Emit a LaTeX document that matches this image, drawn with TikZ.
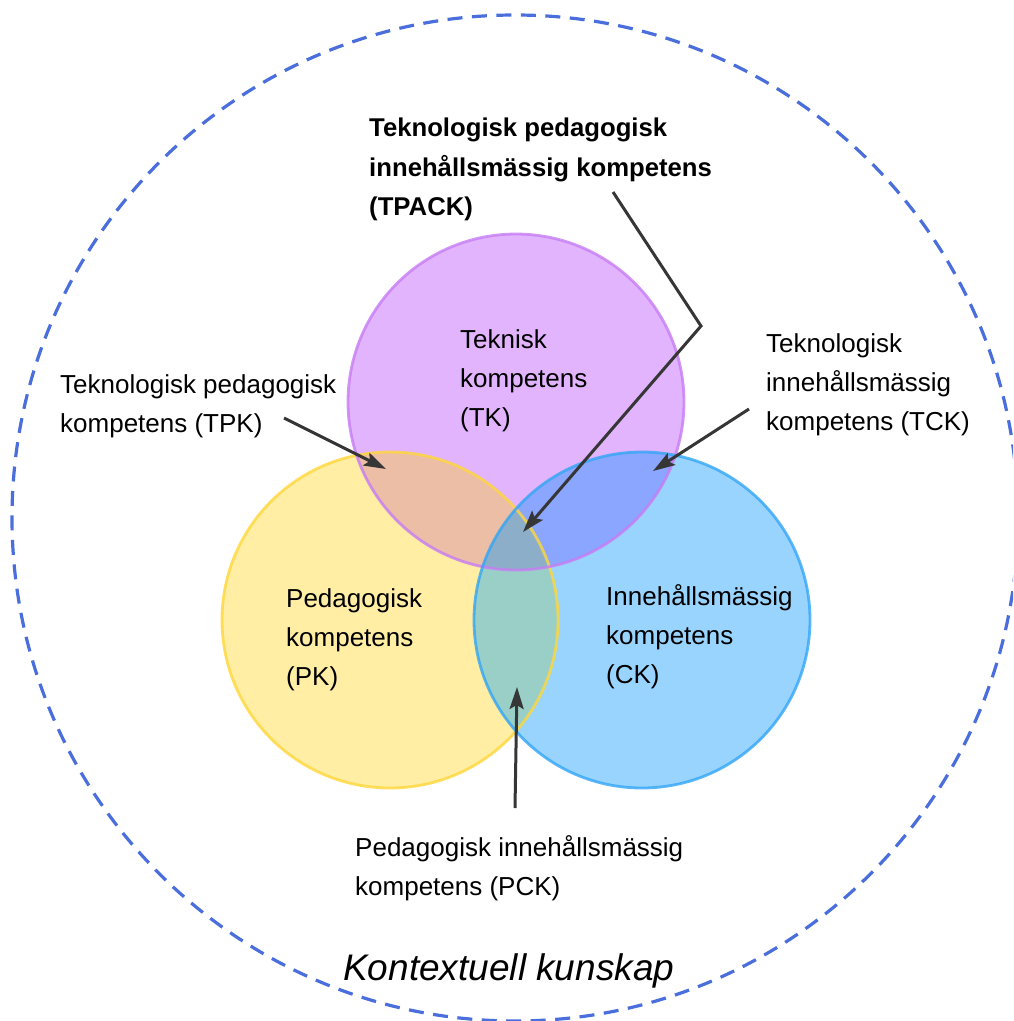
\documentclass[tikz,border=0pt]{standalone}
\usepackage{fontspec}
\setmainfont{Liberation Sans}
\usetikzlibrary{arrows.meta}
\definecolor{outerblue}{HTML}{4A6FDC}
\definecolor{tkfill}{HTML}{E2B4FD}
\definecolor{pkfill}{HTML}{FFEEA4}
\definecolor{ckfill}{HTML}{99D4FF}
\definecolor{tkpkfill}{HTML}{EBBEA5}
\definecolor{tkckfill}{HTML}{8AA6FE}
\definecolor{pkckfill}{HTML}{9ACFC8}
\definecolor{allfill}{HTML}{8DAEC9}
\definecolor{tkline}{HTML}{C77CF5}
\definecolor{pkline}{HTML}{FFD73A}
\definecolor{ckline}{HTML}{33A6F5}
\definecolor{arrowgray}{HTML}{363636}
\tikzset{
  lbl/.style={anchor=north west, inner sep=0pt, align=left,
    font=\fontsize{26}{39.4}\selectfont},
  boldlbl/.style={lbl, font=\fontsize{25.7}{39.4}\selectfont\bfseries},
  pointer/.style={draw=arrowgray, line width=3pt, line join=miter,
    -{Stealth[length=22pt,width=14pt,inset=4pt]}},
  ring/.style={line width=2.8pt, draw opacity=0.8},
}
\begin{document}
\begin{tikzpicture}[x=1pt,y=-1pt]
\useasboundingbox (0,0) rectangle (1013,1021);
\clip (0,0) rectangle (1013,1021);
\fill[white] (0,0) rectangle (1013,1021);
% centres
\coordinate (TKc) at (516,402);
\coordinate (PKc) at (390,620);
\coordinate (CKc) at (642,620);
\def\rr{168}
% outer context circle
\draw[outerblue, line width=3.2pt, dash pattern=on 15pt off 9.5pt] (515,518) circle (503);
% fills
\fill[pkfill] (PKc) circle (\rr);
\fill[ckfill] (CKc) circle (\rr);
\fill[tkfill] (TKc) circle (\rr);
\begin{scope}
  \clip (TKc) circle (\rr);
  \fill[tkpkfill] (PKc) circle (\rr);
  \fill[tkckfill] (CKc) circle (\rr);
\end{scope}
\begin{scope}
  \clip (PKc) circle (\rr);
  \fill[pkckfill] (CKc) circle (\rr);
  \clip (TKc) circle (\rr);
  \fill[allfill] (CKc) circle (\rr);
\end{scope}
% outlines
\draw[ring, pkline] (PKc) circle (\rr);
\draw[ring, tkline] (TKc) circle (\rr);
\draw[ring, ckline] (CKc) circle (\rr);
% labels
\node[boldlbl] (tpack) at (369,118) {Teknologisk pedagogisk\\innehållsmässig kompetens\\(TPACK)};
\node[lbl] (tk) at (460,329) {Teknisk\\kompetens\\(TK)};
\node[lbl] (tpk) at (60,374) {Teknologisk pedagogisk\\kompetens (TPK)};
\node[lbl] (tck) at (766,333) {Teknologisk\\innehållsmässig\\kompetens (TCK)};
\node[lbl] (pk) at (286,588) {Pedagogisk\\kompetens\\(PK)};
\node[lbl] (ck) at (606,584) {Innehållsmässig\\kompetens\\(CK)};
\node[lbl] (pck) at (355,835) {Pedagogisk innehållsmässig\\kompetens (PCK)};
\node[anchor=base west, inner sep=0pt, font=\fontsize{37}{40}\selectfont\itshape] (ctx) at (343,980) {Kontextuell kunskap};
% connector endpoints
\coordinate (tpackStart) at (613,192);
\coordinate (tpackBend) at (701,326);
\coordinate (tpackTip) at (523,532);
\coordinate (tpkStart) at (284,418);
\coordinate (tpkTip) at (386,469);
\coordinate (tckStart) at (749,409);
\coordinate (tckTip) at (653,471);
\coordinate (pckStart) at (515,808);
\coordinate (pckTip) at (517,687);
% connectors
\draw[pointer] (tpackStart) -- (tpackBend) -- (tpackTip);
\draw[pointer] (tpkStart) -- (tpkTip);
\draw[pointer] (tckStart) -- (tckTip);
\draw[pointer] (pckStart) -- (pckTip);
\end{tikzpicture}
\end{document}
